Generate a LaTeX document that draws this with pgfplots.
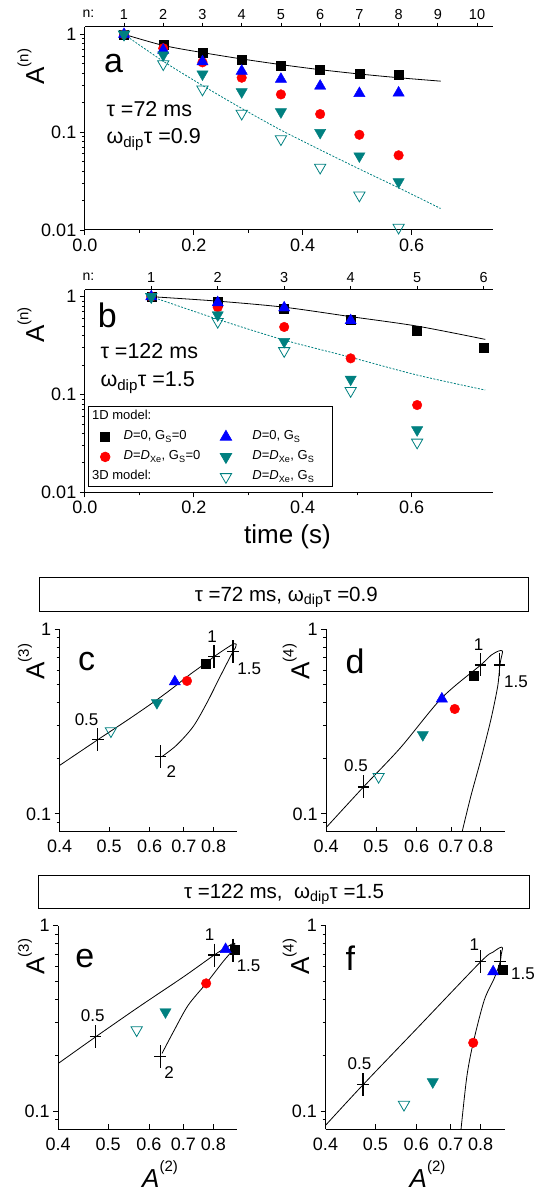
\documentclass[border=0pt]{standalone}
\usepackage{fontspec}
\setmainfont{Liberation Sans}
\usepackage{pgfplots}
\pgfplotsset{compat=1.18}

\definecolor{cyanD}{RGB}{0,128,128}
\newcommand{\fs}[1]{\fontsize{#1}{#1}\selectfont}
\newcommand{\Asup}[2]{#1\raisebox{0.6em}{\fs{15}(#2)}}

\pgfplotsset{
  /pgfplots/msq/.style={only marks, mark=square*, mark size=4.5pt, black},
  /pgfplots/mci/.style={only marks, mark=*, mark size=4.8pt, red},
  /pgfplots/mtu/.style={only marks, mark=triangle*, mark size=6.5pt, blue},
  /pgfplots/mtd/.style={only marks, mark=triangle*, mark size=6.5pt, cyanD, mark options={rotate=180}},
  /pgfplots/mto/.style={only marks, mark=triangle, mark size=6.5pt, cyanD, mark options={rotate=180, fill=white, line width=0.8pt}},
  /pgfplots/mcr/.style={only marks, mark=+, mark size=11.5pt, black, mark options={xscale=0.5, line width=1.3pt}},
  /pgfplots/legimg/.style={legend image code/.code={\path[draw=none, fill=none] (-13.5pt,0pt) -- (6pt,0pt); \draw[##1] plot coordinates {(0pt,0pt)};}},
  /pgfplots/lfit/.style={black, line width=0.8pt, smooth, no markers},
  /pgfplots/lfitd/.style={cyanD, line width=0.8pt, dash pattern=on 2pt off 1.5pt, smooth, no markers},
  /pgfplots/axtime/.style={scale only axis, width=408.6pt, xmin=0, xmax=0.75,
    axis x line*=bottom, axis y line*=left, axis line style={-, line width=1pt},
    tick align=outside, major tick length=5pt, minor tick length=3pt,
    tick style={black, line width=0.8pt},
    xtick={0,0.2,0.4,0.6}, xticklabels={0.0,0.2,0.4,0.6}, minor x tick num=1,
    ytick={0.01,0.1,1}, yticklabels={0.01,0.1,1},
    minor ytick={0.02,0.03,0.04,0.05,0.06,0.07,0.08,0.09,0.2,0.3,0.4,0.5,0.6,0.7,0.8,0.9},
    tick label style={font=\fs{18}}, clip=false,
    ylabel style={rotate=0, anchor=center, font=\fs{26}}},
  /pgfplots/axn/.style={scale only axis, width=408.6pt, xmin=0, xmax=0.75, ymin=0, ymax=1,
    hide y axis, axis x line*=top, axis line style={-, line width=1pt},
    tick align=outside, major tick length=4pt, tick style={black, line width=0.8pt},
    tick label style={font=\fs{14.5}}},
  /pgfplots/axpair/.style={scale only axis,
    xmin=0.4, xmax=0.89, ymin=0.08, ymax=1,
    axis x line*=bottom, axis y line*=left, axis line style={-, line width=1pt},
    tick align=outside, major tick length=5pt, minor tick length=3pt,
    tick style={black, line width=0.8pt}, x tick style={yshift=5pt},
    xtick={0.4,0.5,0.6,0.7,0.8}, xticklabels={0.4,0.5,0.6,0.7,0.8},
    ytick={0.1,1}, yticklabels={0.1,1},
    minor ytick={0.09,0.2,0.3,0.4,0.5,0.6,0.7,0.8,0.9},
    tick label style={font=\fs{18}}, clip=false,
    ylabel style={rotate=0, anchor=center, font=\fs{26}},
    xlabel style={anchor=base, font=\fs{26}}},
}

\begin{document}
\begin{tikzpicture}
\path[use as bounding box] (0,0) rectangle (543pt,1191pt);

% ---------------- panel a ----------------
\begin{axis}[axtime, ymode=log, at={(84.8pt,961pt)}, anchor=south west, height=203.3pt,
  ymin=0.01, ymax=1.196,
  ylabel={\Asup{A}{n}}, ylabel style={at={(rel axis cs:-0.132,0.803)}}]
\addplot[lfit, forget plot] coordinates {(0.072,1)(0.144,0.77)(0.216,0.65)(0.288,0.56)(0.36,0.49)(0.432,0.435)(0.504,0.393)(0.576,0.36)(0.653,0.332)};
\addplot[lfitd, forget plot] coordinates {(0.072,1)(0.144,0.53)(0.216,0.30)(0.288,0.175)(0.36,0.105)(0.432,0.066)(0.504,0.042)(0.576,0.027)(0.653,0.0166)};
\addplot[msq, forget plot] coordinates {(0.072,1)(0.144,0.777)(0.216,0.648)(0.288,0.546)(0.36,0.482)(0.432,0.431)(0.504,0.392)(0.576,0.383)};
\addplot[mci, forget plot] coordinates {(0.072,1)(0.144,0.72)(0.216,0.517)(0.288,0.36)(0.36,0.243)(0.432,0.153)(0.504,0.094)(0.576,0.058)};
\addplot[mtu, forget plot] coordinates {(0.072,1)(0.144,0.69)(0.216,0.525)(0.288,0.421)(0.36,0.348)(0.432,0.296)(0.504,0.249)(0.576,0.252)};
\addplot[mtd, forget plot] coordinates {(0.072,1)(0.144,0.614)(0.216,0.392)(0.288,0.258)(0.36,0.161)(0.432,0.099)(0.504,0.057)(0.576,0.031)};
\addplot[mto, forget plot] coordinates {(0.072,1)(0.144,0.497)(0.216,0.274)(0.288,0.155)(0.36,0.085)(0.432,0.0435)(0.504,0.0226)(0.576,0.0106)};
\end{axis}
\begin{axis}[axn, at={(84.8pt,961pt)}, anchor=south west, height=203.3pt,
  xtick={0.072,0.144,0.216,0.288,0.36,0.432,0.504,0.576,0.648,0.72},
  xticklabels={1,2,3,4,5,6,7,8,9,10}]
\end{axis}

% ---------------- panel b ----------------
\begin{axis}[axtime, ymode=log, at={(84.8pt,698.7pt)}, anchor=south west, height=202.3pt,
  ymin=0.01, ymax=1.17,
  ylabel={\Asup{A}{n}}, ylabel style={at={(rel axis cs:-0.132,0.827)}},
  xlabel={time (s)}, xlabel style={at={(rel axis cs:0.496,-0.219)}, anchor=center, font=\fs{26}},
  legend columns=2, legend cell align=left,
  legend style={at={(rel axis cs:0.0086,0.0247)}, anchor=south west,
    font=\fs{13}, draw=black, line width=0.8pt, inner sep=3pt, row sep=6pt,
    nodes={inner sep=1pt, text height=9pt, text depth=3pt},
    /tikz/every odd column/.append style={column sep=11.5pt},
    /tikz/every even column/.append style={column sep=11pt}}]
\addlegendimage{empty legend}\addlegendentry{\hspace*{-31.6pt}1D model:}
\addlegendimage{empty legend}\addlegendentry{}
\addlegendimage{msq, legimg}\addlegendentry{\textit{D}=0, G\textsubscript{S}=0}
\addlegendimage{mtu, legimg}\addlegendentry{\hspace*{8pt}\textit{D}=0, G\textsubscript{S}}
\addlegendimage{mci, legimg}\addlegendentry{\textit{D}=\textit{D}\textsubscript{Xe}, G\textsubscript{S}=0}
\addlegendimage{mtd, legimg}\addlegendentry{\hspace*{8pt}\textit{D}=\textit{D}\textsubscript{Xe}, G\textsubscript{S}\hspace*{14pt}}
\addlegendimage{empty legend}\addlegendentry{\hspace*{-31.6pt}3D model:}
\addlegendimage{mto, legimg}\addlegendentry{\hspace*{8pt}\textit{D}=\textit{D}\textsubscript{Xe}, G\textsubscript{S}}
\addplot[lfit, forget plot] coordinates {(0.122,1)(0.244,0.9)(0.366,0.78)(0.488,0.625)(0.61,0.5)(0.735,0.366)};
\addplot[lfitd, forget plot] coordinates {(0.122,1)(0.244,0.587)(0.366,0.36)(0.488,0.24)(0.61,0.158)(0.735,0.111)};
\addplot[msq, forget plot] coordinates {(0.122,1)(0.244,0.89)(0.366,0.76)(0.488,0.578)(0.61,0.45)(0.732,0.303)};
\addplot[mci, forget plot] coordinates {(0.122,1)(0.244,0.78)(0.366,0.49)(0.488,0.234)(0.61,0.078)};
\addplot[mtu, forget plot] coordinates {(0.122,1)(0.244,0.87)(0.366,0.77)(0.488,0.57)};
\addplot[mtd, forget plot] coordinates {(0.122,1)(0.244,0.65)(0.366,0.347)(0.488,0.143)(0.61,0.0434)};
\addplot[mto, forget plot] coordinates {(0.122,1)(0.244,0.555)(0.366,0.279)(0.488,0.109)(0.61,0.0324)};
\end{axis}
\begin{axis}[axn, at={(84.8pt,698.7pt)}, anchor=south west, height=202.3pt,
  xtick={0.122,0.244,0.366,0.488,0.61,0.732},
  xticklabels={1,2,3,4,5,6}]
\end{axis}

% ---------------- panel c ----------------
\begin{axis}[axpair, xmode=log, ymode=log, at={(59.6pt,359.3pt)}, anchor=south west, width=177.6pt, height=202.4pt,
  ylabel={\Asup{A}{3}}, ylabel style={at={(rel axis cs:-0.16,0.84)}}]
\addplot[lfit, tension=0.5] coordinates {(0.4,0.183)(0.475,0.252)(0.55,0.33)(0.62,0.415)(0.672,0.49)(0.72,0.57)(0.772,0.655)(0.802,0.711)(0.845,0.785)(0.875,0.832)(0.886,0.83)(0.882,0.79)(0.873,0.756)(0.824,0.554)(0.776,0.398)(0.73,0.297)(0.678,0.236)(0.634,0.204)};
\addplot[mcr] coordinates {(0.475,0.252)(0.802,0.711)(0.873,0.756)(0.630,0.204)};
\addplot[msq] coordinates {(0.772,0.654)};
\addplot[mci] coordinates {(0.71,0.525)};
\addplot[mtu] coordinates {(0.672,0.52)};
\addplot[mtd] coordinates {(0.62,0.40)};
\addplot[mto] coordinates {(0.504,0.281)};
\end{axis}

% ---------------- panel d ----------------
\begin{axis}[axpair, xmode=log, ymode=log, at={(326.2pt,359.3pt)}, anchor=south west, width=178.3pt, height=202.4pt,
  ylabel={\Asup{A}{4}}, ylabel style={at={(rel axis cs:-0.169,0.84)}}]
\addplot[lfit, tension=0.5] coordinates {(0.4,0.0843)(0.473,0.14)(0.558,0.228)(0.672,0.425)(0.8,0.641)(0.837,0.722)(0.866,0.762)(0.882,0.762)(0.876,0.69)(0.871,0.627)(0.863,0.489)(0.837,0.323)(0.8,0.196)(0.765,0.124)(0.736,0.08)};
\addplot[mcr] coordinates {(0.473,0.14)(0.8,0.641)(0.871,0.641)};
\addplot[msq] coordinates {(0.774,0.561)};
\addplot[mci] coordinates {(0.712,0.37)};
\addplot[mtu] coordinates {(0.672,0.42)};
\addplot[mtd] coordinates {(0.617,0.268)};
\addplot[mto] coordinates {(0.506,0.159)};
\end{axis}

% ---------------- panel e ----------------
\begin{axis}[axpair, xmode=log, ymode=log, at={(58.2pt,61.7pt)}, anchor=south west, width=179pt, height=203.6pt,
  ylabel={\Asup{A}{3}}, ylabel style={at={(rel axis cs:-0.151,0.848)}},
  xlabel={\Asup{\textit{A}}{2}}, xlabel style={at={(rel axis cs:0.569,-0.286)}}]
\addplot[lfit, tension=0.5] coordinates {(0.4,0.181)(0.473,0.252)(0.574,0.366)(0.7,0.53)(0.803,0.695)(0.845,0.76)(0.872,0.80)(0.881,0.80)(0.876,0.765)(0.873,0.739)(0.835,0.639)(0.775,0.489)(0.715,0.373)(0.672,0.274)(0.636,0.205)};
\addplot[mcr] coordinates {(0.473,0.252)(0.803,0.695)(0.873,0.739)(0.631,0.197)};
\addplot[msq] coordinates {(0.882,0.739)};
\addplot[mci] coordinates {(0.775,0.489)};
\addplot[mtu] coordinates {(0.845,0.746)};
\addplot[mtd] coordinates {(0.646,0.343)};
\addplot[mto] coordinates {(0.568,0.274)};
\end{axis}

% ---------------- panel f ----------------
\begin{axis}[axpair, xmode=log, ymode=log, at={(325.5pt,61.7pt)}, anchor=south west, width=179pt, height=203.6pt,
  ylabel={\Asup{A}{4}}, ylabel style={at={(rel axis cs:-0.165,0.848)}},
  xlabel={\Asup{\textit{A}}{2}}, xlabel style={at={(rel axis cs:0.57,-0.286)}}]
\addplot[lfit, tension=0.5] coordinates {(0.4,0.084)(0.473,0.139)(0.6,0.277)(0.8,0.639)(0.845,0.72)(0.872,0.762)(0.882,0.76)(0.877,0.70)(0.873,0.639)(0.85,0.52)(0.813,0.397)(0.774,0.234)(0.752,0.153)(0.733,0.08)};
\addplot[mcr] coordinates {(0.473,0.139)(0.8,0.639)(0.873,0.639)};
\addplot[msq] coordinates {(0.882,0.582)};
\addplot[mci] coordinates {(0.774,0.234)};
\addplot[mtu] coordinates {(0.846,0.565)};
\addplot[mtd] coordinates {(0.646,0.144)};
\addplot[mto] coordinates {(0.568,0.1087)};
\end{axis}

% ---------------- annotations ----------------
\node[anchor=west, font=\fs{14}] at (79pt,1177pt) {n:};
\node[anchor=west, font=\fs{14}] at (79pt,914.3pt) {n:};
\node[font=\fs{34}] at (113.6pt,1127.7pt) {a};
\node[anchor=base west, font=\fs{21.5}] at (103pt,1074.3pt) {τ =72 ms};
\node[anchor=base west, font=\fs{21.5}] at (103pt,1047.7pt) {ω\textsubscript{dip}τ =0.9};
\node[font=\fs{34}] at (107.3pt,876pt) {b};
\node[anchor=base west, font=\fs{21.5}] at (97pt,832.7pt) {τ =122 ms};
\node[anchor=base west, font=\fs{21.5}] at (97pt,804.3pt) {ω\textsubscript{dip}τ =1.5};

\draw[line width=1pt] (39.8pt,579.3pt) rectangle (528.7pt,613.7pt);
\node[anchor=base, font=\fs{20.5}] at (286.3pt,589.3pt) {τ =72 ms, ω\textsubscript{dip}τ =0.9};
\draw[line width=1pt] (38.1pt,282.7pt) rectangle (529.8pt,315.3pt);
\node[anchor=base, font=\fs{20.5}] at (284pt,292.5pt) {τ =122 ms,\ \ ω\textsubscript{dip}τ =1.5};

\node[font=\fs{34}] at (86.6pt,529.3pt) {c};
\node[font=\fs{34}] at (355pt,529.3pt) {d};
\node[font=\fs{34}] at (84.8pt,232.7pt) {e};
\node[font=\fs{34}] at (350.4pt,232.7pt) {f};

\begin{scope}[every node/.style={font=\fs{17}}]
\node at (86.6pt,471pt) {0.5};
\node at (212pt,554.3pt) {1};
\node at (249.3pt,522.7pt) {1.5};
\node at (171.4pt,419.3pt) {2};
\node at (356pt,425.3pt) {0.5};
\node at (478.5pt,546pt) {1};
\node at (516pt,509.3pt) {1.5};
\node at (92.8pt,175pt) {0.5};
\node at (209.5pt,256pt) {1};
\node at (248.6pt,225pt) {1.5};
\node at (169pt,118.3pt) {2};
\node at (359.4pt,127.7pt) {0.5};
\node at (474.4pt,246pt) {1};
\node at (522.9pt,217.7pt) {1.5};
\end{scope}
\end{tikzpicture}
\end{document}
